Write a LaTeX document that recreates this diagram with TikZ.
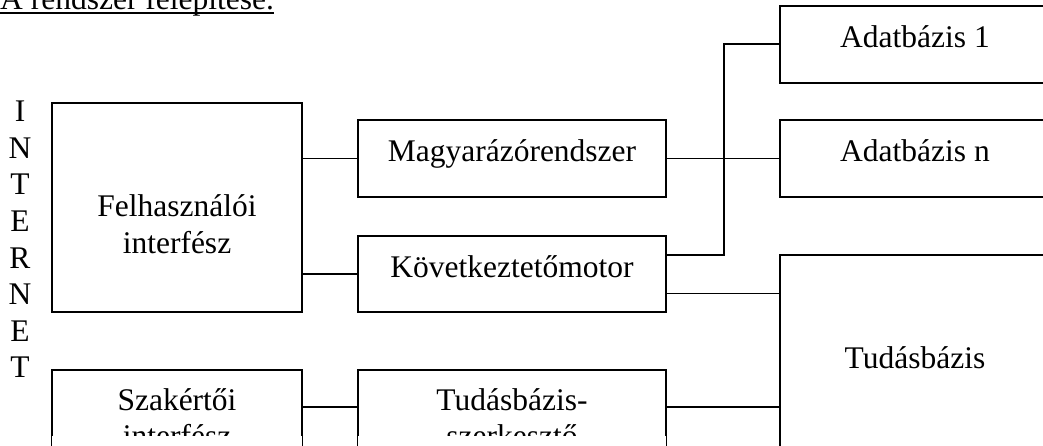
\documentclass[tikz,border=0pt]{standalone}
\usepackage{fontspec}
\setmainfont{Liberation Serif}
\begin{document}
\begin{tikzpicture}[x=1pt, y=-1pt,
    txt/.style={inner sep=0pt, font=\fontsize{31.5}{36.6}\selectfont},
    box/.style={txt, draw=black, line width=1.6pt},
    oneline/.style={box, text height=22pt, text depth=15.6pt},
    link/.style={line width=1.6pt}]
  \useasboundingbox (0,0) rectangle (1043,446);
  \clip (0,0) rectangle (1043,446);

  % title and side text
  \node[txt, anchor=base west](title) at (0,9.3){A rendszer felépítése.};
  \draw[line width=2pt] ([yshift=-3.4pt]title.base west) -- ([yshift=-3.4pt]title.base east);
  \foreach \l [count=\i from 0] in {I,N,T,E,R,N,E,T}
    \node[txt, anchor=base](net\i) at (20,{121.7+36.6*\i}){\l};

  % boxes
  \node[box, minimum width=250pt, minimum height=209pt, text height=50pt, text depth=31.6pt](felh) at (177,207.5)
    {\begin{tabular}[t]{@{}c@{}}Felhasználói\\interfész\end{tabular}};
  \node[oneline, minimum width=308pt, minimum height=77pt](magy) at (512,158.5){Magyarázórendszer};
  \node[oneline, minimum width=308pt, minimum height=76pt](kovet) at (512,274){Következtetőmotor};
  \node[box, minimum width=250pt, minimum height=130pt, text height=10pt, text depth=60pt](szak) at (177,435)
    {\begin{tabular}[t]{@{}c@{}}Szakértői\\interfész\end{tabular}};
  \node[box, minimum width=308pt, minimum height=130pt, text height=10pt, text depth=60pt](szerk) at (512,435)
    {\begin{tabular}[t]{@{}c@{}}Tudásbázis-\\szerkesztő\end{tabular}};
  \node[oneline, minimum width=270pt, minimum height=77pt](adat1) at (915,44.3){Adatbázis 1};
  \node[oneline, minimum width=270pt, minimum height=77pt](adatn) at (915,158.5){Adatbázis n};
  \node[oneline, minimum width=270pt, minimum height=219.6pt](tudas) at (915,364.8){Tudásbázis};

  % the lower text boxes cut their second line
  \fill[white] ([xshift=0.8pt]szak.west |- 0,436) rectangle ([xshift=-0.8pt]szak.east |- 0,447);
  \fill[white] ([xshift=0.8pt]szerk.west |- 0,436) rectangle ([xshift=-0.8pt]szerk.east |- 0,447);

  % connectors
  \coordinate (kt) at ([yshift=-19.3pt]kovet.east);
  \coordinate (sk) at ([yshift=-38pt]szak.north east);
  \draw[link] (felh.east |- magy.west) -- (magy.west);
  \draw[link] (felh.east |- kovet.west) -- (kovet.west);
  \draw[link] (magy.east) -- (adatn.west);
  \draw[link] ([yshift=19pt]kovet.east) -- ++(57,0) |- (adat1.west);
  \draw[link] (kt) -- (kt -| tudas.west);
  \draw[link] (sk) -- (sk -| szerk.west);
  \draw[link] (sk -| szerk.east) -- (sk -| tudas.west);
\end{tikzpicture}
\end{document}
